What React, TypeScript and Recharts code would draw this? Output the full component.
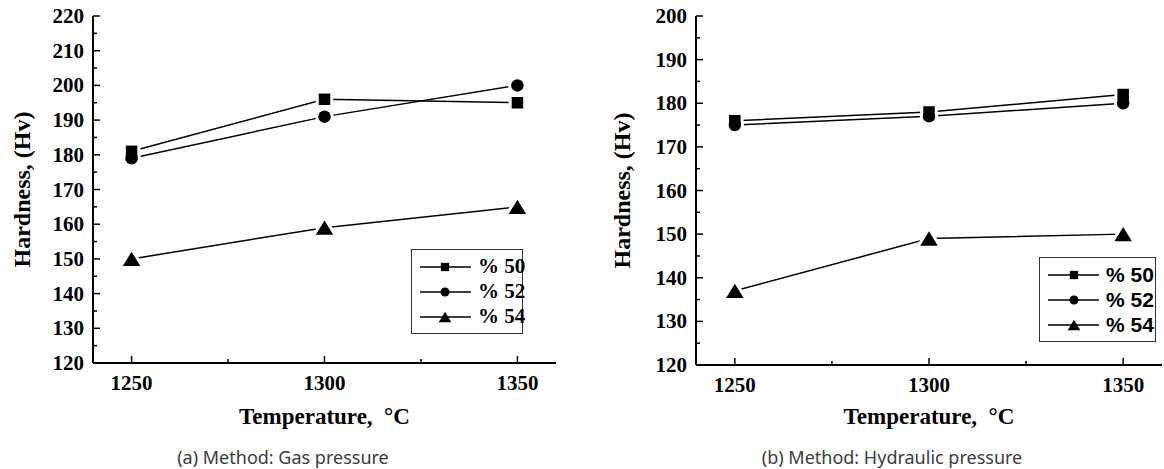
import { LineChart, Line, XAxis, YAxis, Legend } from 'recharts';

const temperatures = [1250, 1300, 1350];
const gas50 = [181, 196, 195];
const gas52 = [179, 191, 200];
const gas54 = [150, 159, 165];
const hyd50 = [176, 178, 182];
const hyd52 = [175, 177, 180];
const hyd54 = [137, 149, 150];
const seriesLabels = ['% 50', '% 52', '% 54'];
const seriesKeys = ['s50', 's52', 's54'];
const markerKinds = ['square', 'circle', 'triangle'];

const xTicks = [1250, 1275, 1300, 1325, 1350];
const gasYTicks = [120, 125, 130, 135, 140, 145, 150, 155, 160, 165, 170, 175, 180, 185, 190, 195, 200, 205, 210, 215, 220];
const hydYTicks = [120, 125, 130, 135, 140, 145, 150, 155, 160, 165, 170, 175, 180, 185, 190, 195, 200];
const captions = ['(a) Method: Gas pressure', '(b) Method: Hydraulic pressure'];

const SERIF = '"Liberation Serif", "Times New Roman", serif';
const SANS = '"Liberation Sans", Arial, sans-serif';

function buildRows(a: number[], b: number[], c: number[]) {
  return temperatures.map((t, i) => ({ t, s50: a[i], s52: b[i], s54: c[i] }));
}

const gasRows = buildRows(gas50, gas52, gas54);
const hydRows = buildRows(hyd50, hyd52, hyd54);

function Marker({ kind, cx, cy, size, fill, stroke = 'none', sw = 0 }: any) {
  if (kind === 'square') {
    const s = size * 0.92;
    return <rect x={cx - s / 2} y={cy - s / 2} width={s} height={s} fill={fill} stroke={stroke} strokeWidth={sw} />;
  }
  if (kind === 'circle') {
    return <circle cx={cx} cy={cy} r={size / 2} fill={fill} stroke={stroke} strokeWidth={sw} />;
  }
  const w = size * 1.4;
  const h = size * 1.15;
  const pts = `${cx},${cy - h / 2} ${cx - w / 2},${cy + h / 2} ${cx + w / 2},${cy + h / 2}`;
  return <polygon points={pts} fill={fill} stroke={stroke} strokeWidth={sw} strokeLinejoin="round" />;
}

// inward tick marks, Origin style
const BottomTick = ({ x, y, payload }: any) => {
  const major = payload.value % 50 === 0;
  return (
    <g>
      <line x1={x} x2={x} y1={y} y2={y - (major ? 7 : 4)} stroke="#000" strokeWidth={1.5} />
      {major && (
        <text x={x} y={y + 27} textAnchor="middle" fontFamily={SERIF} fontWeight="bold" fontSize={21} fill="#000">
          {payload.value}
        </text>
      )}
    </g>
  );
};

const TopTick = ({ x, y, payload }: any) => {
  const major = payload.value % 50 === 0;
  return <line x1={x} x2={x} y1={y} y2={y + (major ? 7 : 4)} stroke="#000" strokeWidth={1.5} />;
};

const LeftTick = ({ x, y, payload }: any) => {
  const major = payload.value % 10 === 0;
  return (
    <g>
      <line x1={x} x2={x + (major ? 7 : 4)} y1={y} y2={y} stroke="#000" strokeWidth={1.5} />
      {major && (
        <text x={x - 9} y={y + 7} textAnchor="end" fontFamily={SERIF} fontWeight="bold" fontSize={21} fill="#000">
          {payload.value}
        </text>
      )}
    </g>
  );
};

const RightTick = ({ x, y, payload }: any) => {
  const major = payload.value % 10 === 0;
  return <line x1={x} x2={x - (major ? 7 : 4)} y1={y} y2={y} stroke="#000" strokeWidth={1.5} />;
};

function LegendBox({ font, fontSize, markerX, width }: { font: string; fontSize: number; markerX: number; width: number }) {
  return (
    <div
      style={{
        width,
        border: '1.5px solid #333',
        background: '#fff',
        padding: '4px 0 4px 8px',
        boxSizing: 'border-box',
        whiteSpace: 'nowrap',
      }}
    >
      {seriesLabels.map((label, i) => (
        <div key={label} style={{ display: 'flex', alignItems: 'center', height: 25 }}>
          <svg width={51} height={20} style={{ display: 'block', flex: 'none' }}>
            <line x1={0} x2={51} y1={10} y2={10} stroke="#000" strokeWidth={1.5} />
            <Marker kind={markerKinds[i]} cx={markerX} cy={10} size={9} fill="#000" />
          </svg>
          <span
            style={{
              marginLeft: 7,
              fontFamily: font,
              fontWeight: 'bold',
              fontSize,
              color: '#000',
              lineHeight: 1,
              whiteSpace: 'nowrap',
            }}
          >
            {label}
          </span>
        </div>
      ))}
    </div>
  );
}

function Panel({ rows, yDomain, yTicks, width, marginRight, yAxisWidth, xAxisHeight, legendPos, legendFont, legendMarkerX }: any) {
  return (
    <LineChart width={width} height={469} data={rows} margin={{ top: 16, right: marginRight, bottom: 0, left: 0 }}>
      <XAxis
        dataKey="t"
        type="number"
        domain={[1240, 1360]}
        ticks={xTicks}
        interval={0}
        height={xAxisHeight}
        axisLine={{ stroke: '#000', strokeWidth: 2 }}
        tickLine={false}
        tickSize={0}
        tickMargin={0}
        tick={BottomTick}
        label={{
          value: 'Temperature,\u00a0 °C',
          position: 'insideBottom',
          offset: 45,
          style: { fontFamily: SERIF, fontWeight: 'bold', fontSize: 23, fill: '#000' },
        }}
      />
      <XAxis
        xAxisId="top"
        dataKey="t"
        type="number"
        orientation="top"
        domain={[1240, 1360]}
        ticks={xTicks}
        interval={0}
        height={0}
        axisLine={{ stroke: '#000', strokeWidth: 2 }}
        tickLine={false}
        tickSize={0}
        tickMargin={0}
        tick={TopTick}
      />
      <YAxis
        type="number"
        domain={yDomain}
        ticks={yTicks}
        interval={0}
        width={yAxisWidth}
        axisLine={{ stroke: '#000', strokeWidth: 2 }}
        tickLine={false}
        tickSize={0}
        tickMargin={0}
        tick={LeftTick}
        label={{
          value: 'Hardness, (Hv)',
          angle: -90,
          position: 'insideLeft',
          offset: 21,
          style: { fontFamily: SERIF, fontWeight: 'bold', fontSize: 24, fill: '#000', textAnchor: 'middle' },
        }}
      />
      <YAxis
        yAxisId="right"
        type="number"
        orientation="right"
        domain={yDomain}
        ticks={yTicks}
        interval={0}
        width={0}
        axisLine={{ stroke: '#000', strokeWidth: 2 }}
        tickLine={false}
        tickSize={0}
        tickMargin={0}
        tick={RightTick}
      />
      <Legend
        layout="vertical"
        align="center"
        verticalAlign="middle"
        wrapperStyle={{ left: legendPos[0], top: legendPos[1], width: legendPos[2], bottom: 'auto', right: 'auto' }}
        content={() => <LegendBox font={legendFont} fontSize={21} markerX={legendMarkerX} width={legendPos[2]} />}
      />
      {seriesKeys.map((k) => (
        <Line key={`line-${k}`} dataKey={k} stroke="#000" strokeWidth={1.5} dot={false} isAnimationActive={false} legendType="none" />
      ))}
      {seriesKeys.map((k, i) => (
        <Line
          key={`halo-${k}`}
          dataKey={k}
          stroke="none"
          isAnimationActive={false}
          legendType="none"
          dot={(p: any) => (
            <Marker key={`h-${k}-${p.index}`} kind={markerKinds[i]} cx={p.cx} cy={p.cy} size={12.5} fill="#fff" stroke="#fff" sw={6} />
          )}
        />
      ))}
      {seriesKeys.map((k, i) => (
        <Line
          key={`mark-${k}`}
          dataKey={k}
          stroke="none"
          isAnimationActive={false}
          legendType="none"
          dot={(p: any) => <Marker key={`m-${k}-${p.index}`} kind={markerKinds[i]} cx={p.cx} cy={p.cy} size={12.5} fill="#000" />}
        />
      ))}
    </LineChart>
  );
}

export default function App() {
  return (
    <div style={{ position: 'absolute', left: 0, top: 0, width: 1164, height: 469, background: '#fff', overflow: 'hidden' }}>
      <div style={{ position: 'absolute', left: 0, top: 0 }}>
        <Panel
          rows={gasRows}
          yDomain={[120, 220]}
          yTicks={gasYTicks}
          width={580}
          marginRight={24}
          yAxisWidth={93}
          xAxisHeight={106}
          legendPos={[411, 249, 112]}
          legendFont={SERIF}
          legendMarkerX={25}
        />
      </div>
      <div style={{ position: 'absolute', left: 600, top: 0 }}>
        <Panel
          rows={hydRows}
          yDomain={[120, 200]}
          yTicks={hydYTicks}
          width={564}
          marginRight={2}
          yAxisWidth={96}
          xAxisHeight={104}
          legendPos={[439, 257, 117]}
          legendFont={SANS}
          legendMarkerX={26}
        />
      </div>
      {captions.map((c, i) => (
        <div
          key={c}
          style={{
            position: 'absolute',
            left: i === 0 ? 83 : 692,
            width: 400,
            top: 446,
            textAlign: 'center',
            fontFamily: '"Noto Sans", "Open Sans", sans-serif',
            fontSize: 18,
            color: '#3c3c3c',
            lineHeight: '22px',
          }}
        >
          {c}
        </div>
      ))}
    </div>
  );
}
